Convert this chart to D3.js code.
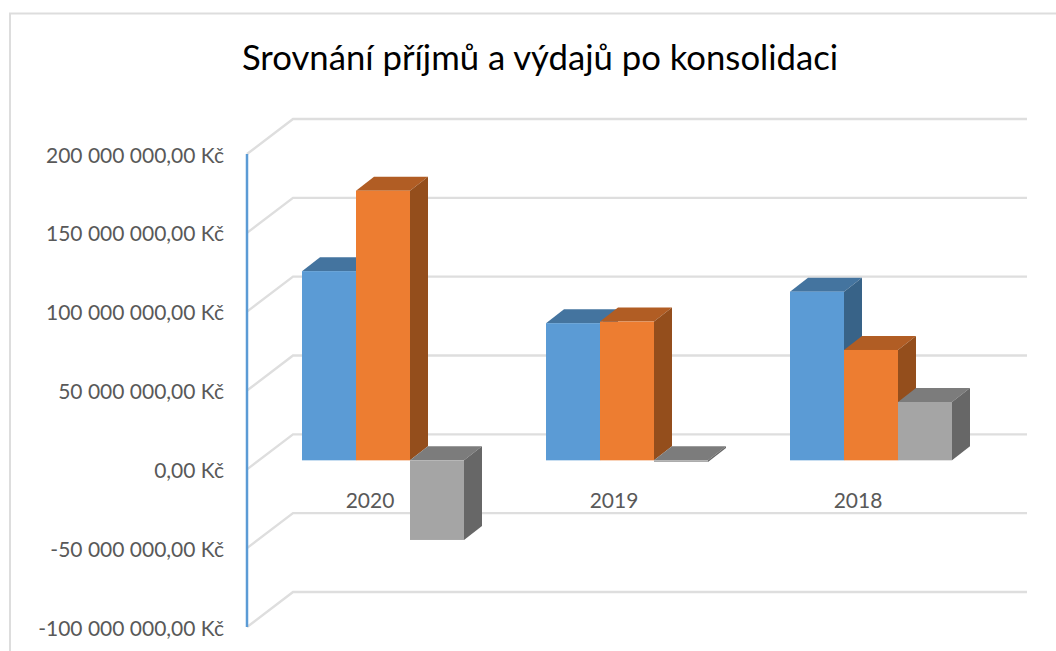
<!DOCTYPE html>
<html><head><meta charset="utf-8">
<script src="https://cdnjs.cloudflare.com/ajax/libs/d3/7.8.5/d3.min.js"></script>
<style>html,body{margin:0;padding:0;background:#fff}svg{display:block}text{font-family:Lato,"Open Sans",sans-serif}</style>
</head><body><svg id="c" width="1056" height="651"></svg>
<script>
const categories = ["2020","2019","2018"];
const seriesNames = ["Příjmy","Výdaje","Rozdíl"];
const prijmy = [120e6, 87e6, 107e6];
const vydaje = [171e6, 88e6, 70e6];
const rozdil = [-50.5e6, -1e6, 37e6];
const tickValues = [200e6,150e6,100e6,50e6,0,-50e6,-100e6];
const tickLabels = ["200 000 000,00 Kč","150 000 000,00 Kč","100 000 000,00 Kč","50 000 000,00 Kč","0,00 Kč","-50 000 000,00 Kč","-100 000 000,00 Kč"];
const title = "Srovnání příjmů a výdajů po konsolidaci";
const faceColors = ["#5B9BD5","#ED7D31","#A5A5A5"];
const topColors = ["#44749F","#B15D24","#7C7C7C"];
const sideColors = ["#386388","#944E1C","#676767"];
const allSeries = [prijmy, vydaje, rozdil];

const svg = d3.select("#c");
const y = d3.scaleLinear().domain([-100e6,200e6]).range([627,154]);
const x0 = d3.scaleBand().domain(categories).range([261,993]).paddingInner(82/244).paddingOuter(41/244);
const x1 = d3.scaleBand().domain(seriesNames).range([0,x0.bandwidth()]);
const wallDx = 46, wallDy = -35, barLift = -9, barDx = 18, barDy = -14;
const frontX = 247, rightX = 1027;

// frame
svg.append("path").attr("d","M10,651V13.5H1056").attr("fill","none").attr("stroke","#DDDDDD").attr("stroke-width",2);

// title
svg.append("text").attr("x",540).attr("y",70).attr("text-anchor","middle").attr("font-size",34.7).attr("fill","#000").text(title);

// gridlines
const grid = svg.append("g").attr("fill","none").attr("stroke","#DEDEDE").attr("stroke-width",2.4);
tickValues.forEach(v=>{
  grid.append("path").attr("d",`M${frontX},${y(v)}L${frontX+wallDx},${y(v)+wallDy}H${rightX}`);
});
// axis line
svg.append("line").attr("x1",frontX).attr("x2",frontX).attr("y1",y(200e6)).attr("y2",y(-100e6)).attr("stroke","#5B9BD5").attr("stroke-width",2.5);
// tick labels
svg.append("g").selectAll("text").data(tickValues).join("text")
  .attr("x",224).attr("y",d=>y(d)+1).attr("dy","0.36em").attr("text-anchor","end")
  .attr("font-size",21).attr("fill","#595959").text((d,i)=>tickLabels[i]);

// bars
const base = y(0)+barLift;
const bars = svg.append("g");
categories.forEach((c,ci)=>{
  allSeries.forEach((s,si)=>{
    const v = s[ci];
    const x = x0(c)+x1(seriesNames[si]), w = x1.bandwidth();
    const t = Math.min(base, y(v)+barLift), b = Math.max(base, y(v)+barLift);
    const g = bars.append("g");
    g.append("path").attr("fill",topColors[si]).attr("d",`M${x},${t}l${barDx},${barDy}h${w}l${-barDx},${-barDy}z`);
    g.append("path").attr("fill",sideColors[si]).attr("d",`M${x+w},${t}l${barDx},${barDy}V${b+barDy}l${-barDx},${-barDy}z`);
    g.append("rect").attr("x",x).attr("y",t).attr("width",w).attr("height",b-t).attr("fill",faceColors[si]);
  });
});

// category labels
svg.append("g").selectAll("text").data(categories).join("text")
  .attr("x",d=>x0(d)+x0.bandwidth()/2-13).attr("y",500).attr("dy","0.36em").attr("text-anchor","middle")
  .attr("font-size",21).attr("fill","#595959").text(d=>d);
</script></body></html>
